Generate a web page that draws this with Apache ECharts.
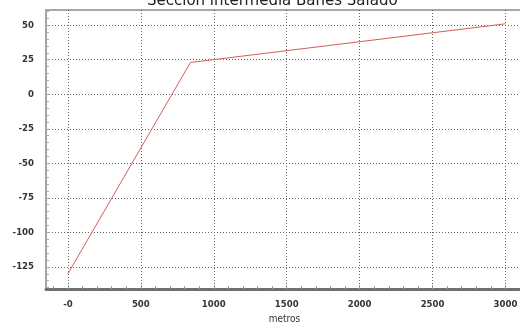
<!DOCTYPE html>
<html><head><meta charset="utf-8">
<script src="https://cdn.jsdelivr.net/npm/echarts@6/dist/echarts.min.js"></script>
<style>html,body{margin:0;padding:0;background:#fff}#c{width:520px;height:322px}</style>
</head><body><div id="c"></div>
<script>
const chartTitle = 'Sección intermedia Banes Salado';
const xAxisName = 'metros';
const distances = [0, 840, 3000];
const elevations = [-130, 23, 51];
const xTicks = [0, 500, 1000, 1500, 2000, 2500, 3000];
const yTicks = [-125, -100, -75, -50, -25, 0, 25, 50];
const xMinorStep = 100;
const yMinorStep = 5;

const X_MIN = -150, X_MAX = 3120, Y_MIN = -141, Y_MAX = 61;
const xMinor = [];
for (let v = Math.ceil(X_MIN / xMinorStep) * xMinorStep; v <= X_MAX; v += xMinorStep) xMinor.push(v);
const yMinor = [];
for (let v = Math.ceil(Y_MIN / yMinorStep) * yMinorStep; v <= Y_MAX; v += yMinorStep) yMinor.push(v);

const labelFont = { fontFamily: 'DejaVu Sans Condensed, DejaVu Sans', fontSize: 9.5, fontWeight: 'bold', color: '#333' };
const gridLine = { show: true, lineStyle: { type: [1, 2], color: '#666', width: 1 } };

const chart = echarts.init(document.getElementById('c'), null, { renderer: 'canvas' });
chart.setOption({
  animation: false,
  backgroundColor: '#fff',
  title: {
    text: chartTitle, left: 147, top: -6, padding: 0,
    textStyle: { fontFamily: 'DejaVu Sans', fontSize: 15, fontWeight: 'normal', color: '#222' }
  },
  grid: { left: 46, right: -3, top: 10, bottom: 33, containLabel: false, outerBoundsMode: 'none',
          show: true, borderColor: '#a8a8a8', borderWidth: 2, backgroundColor: 'transparent' },
  xAxis: [
    {
      type: 'value', min: X_MIN, max: X_MAX,
      name: xAxisName, nameLocation: 'middle', nameGap: 23,
      nameTextStyle: Object.assign({}, labelFont, { fontWeight: 'normal', fontSize: 10 }),
      axisLine: { show: true, onZero: false, lineStyle: { color: '#707070', width: 3 } },
      axisTick: { show: true, inside: true, length: 4, customValues: xTicks, lineStyle: { color: '#888' } },
      axisLabel: Object.assign({ customValues: xTicks, margin: 11, formatter: v => v === 0 ? '-0' : String(v) }, labelFont),
      splitLine: gridLine
    },
    {
      type: 'value', min: X_MIN, max: X_MAX, position: 'bottom',
      axisLine: { show: false, onZero: false },
      axisTick: { show: true, inside: true, length: 3, customValues: xMinor, lineStyle: { color: '#999' } },
      axisLabel: { show: false },
      splitLine: { show: false }
    }
  ],
  yAxis: [
    {
      type: 'value', min: Y_MIN, max: Y_MAX,
      axisLine: { show: true, onZero: false, lineStyle: { color: '#a0a0a0', width: 1 } },
      axisTick: { show: true, inside: true, length: 4, customValues: yTicks, lineStyle: { color: '#888' } },
      axisLabel: Object.assign({ customValues: yTicks, margin: 12 }, labelFont),
      splitLine: gridLine
    },
    {
      type: 'value', min: Y_MIN, max: Y_MAX, position: 'left',
      axisLine: { show: false, onZero: false },
      axisTick: { show: true, inside: true, length: 3, customValues: yMinor, lineStyle: { color: '#aaa' } },
      axisLabel: { show: false },
      splitLine: { show: false }
    }
  ],
  series: [{
    type: 'line', xAxisIndex: 0, yAxisIndex: 0,
    data: distances.map((d, i) => [d, elevations[i]]),
    showSymbol: false, symbol: 'none',
    lineStyle: { color: '#d65c5c', width: 1 }
  }]
});
</script></body></html>
